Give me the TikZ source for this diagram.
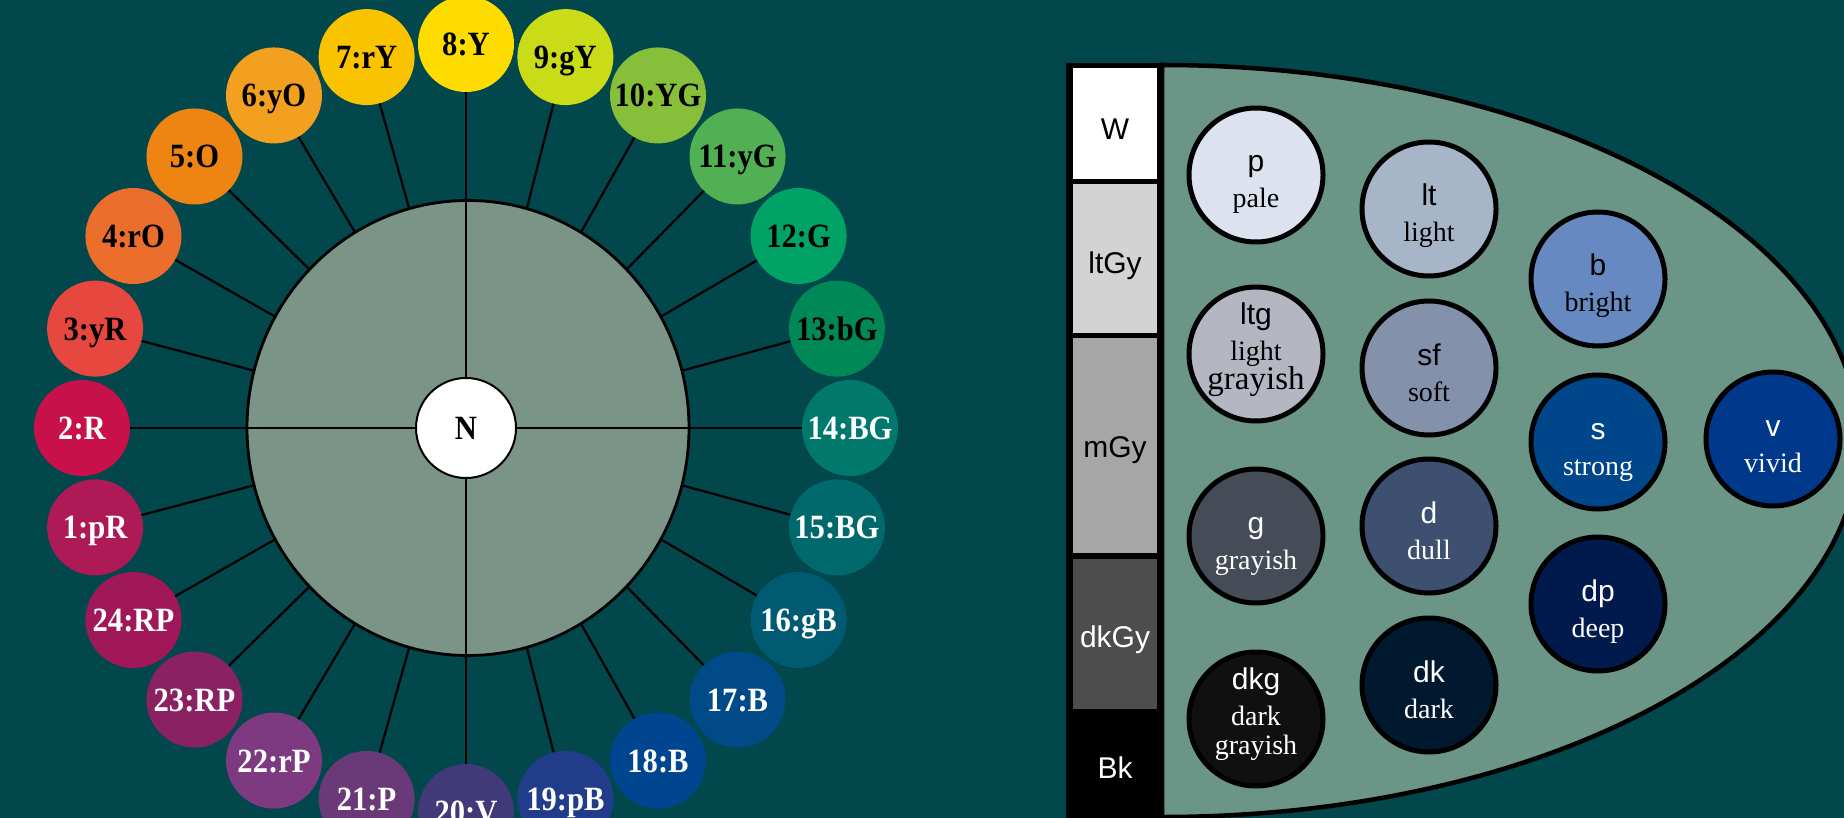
\documentclass[tikz,border=0pt]{standalone}
\usepackage{fontspec}
\usetikzlibrary{shapes.geometric}
\setmainfont{Liberation Serif}
\setsansfont{Liberation Sans}
\newfontfamily\wheelfont[FakeStretch=0.9]{Liberation Serif}
\definecolor{bg}{HTML}{01474C}
\definecolor{wheelgray}{HTML}{7A9588}
\definecolor{ovalgray}{HTML}{6B9586}
\definecolor{w1}{HTML}{AE1A55}
\definecolor{w2}{HTML}{C8104A}
\definecolor{w3}{HTML}{E6473F}
\definecolor{w4}{HTML}{EC6E2C}
\definecolor{w5}{HTML}{EE8412}
\definecolor{w6}{HTML}{F39F20}
\definecolor{w7}{HTML}{FAC300}
\definecolor{w8}{HTML}{FEDC00}
\definecolor{w9}{HTML}{CADB17}
\definecolor{w10}{HTML}{87BF3B}
\definecolor{w11}{HTML}{50B053}
\definecolor{w12}{HTML}{00A266}
\definecolor{w13}{HTML}{008957}
\definecolor{w14}{HTML}{00796C}
\definecolor{w15}{HTML}{00696B}
\definecolor{w16}{HTML}{005A72}
\definecolor{w17}{HTML}{004B87}
\definecolor{w18}{HTML}{00458F}
\definecolor{w19}{HTML}{213D8A}
\definecolor{w20}{HTML}{413978}
\definecolor{w21}{HTML}{6A3A78}
\definecolor{w22}{HTML}{7D3A80}
\definecolor{w23}{HTML}{8A2163}
\definecolor{w24}{HTML}{A01859}
\definecolor{cp}{HTML}{DCE2EE}
\definecolor{clt}{HTML}{A7B5C9}
\definecolor{cb}{HTML}{6789C2}
\definecolor{cltg}{HTML}{B4B7C1}
\definecolor{csf}{HTML}{8391AA}
\definecolor{cs}{HTML}{00468A}
\definecolor{cv}{HTML}{00388B}
\definecolor{cg}{HTML}{464C57}
\definecolor{cd}{HTML}{3D506F}
\definecolor{cdp}{HTML}{001A4E}
\definecolor{cdkg}{HTML}{101010}
\definecolor{cdk}{HTML}{00192F}
\definecolor{ltgy}{HTML}{D3D3D3}
\definecolor{mgy}{HTML}{A6A6A6}
\definecolor{dkgy}{HTML}{4D4D4D}
\newcommand{\tonetwo}[7]{%
  \node[tone, fill=#4] (#1) at (#2,#3) {};
  \node[abbrtxt, text=#5] (#1-a) at (#2,#3-3) {#6};
  \node[wordtxt, text=#5] (#1-w) at (#2,#3+33) {#7};
}
\newcommand{\tonethree}[9]{%
  \node[tone, fill=#4] (#1) at (#2,#3) {};
  \node[abbrtxt, text=#5] (#1-a) at (#2,#3-30) {#6};
  \node[wordtxt, text=#5] (#1-w) at (#2,#3+6) {#7};
  \node[wordtxt, text=#5, font=\rmfamily\fontsize{#9}{32}\selectfont] (#1-x) at (#2,#3+35) {#8};
}
\begin{document}
\begin{tikzpicture}[x=1pt,y=-1pt,
  wdisk/.style={circle, minimum size=96pt, inner sep=0pt,
    font=\wheelfont\bfseries\fontsize{34}{40}\selectfont,
    text height=23pt, text depth=0pt},
  spoke/.style={draw=black, line width=2.2pt},
  tone/.style={circle, minimum size=134pt, inner sep=0pt, draw=black, line width=5pt},
  abbrtxt/.style={anchor=base, inner sep=0pt, font=\sffamily\fontsize{30}{36}\selectfont},
  wordtxt/.style={anchor=base, inner sep=0pt, font=\rmfamily\fontsize{28}{32}\selectfont},
  barseg/.style={rectangle, minimum width=84pt, inner sep=0pt},
  bartxt/.style={anchor=base, inner sep=0pt, font=\sffamily\fontsize{30}{36}\selectfont}
]
\useasboundingbox (0,0) rectangle (1844,818);
\clip (0,0) rectangle (1844,818);
\fill[bg] (0,0) rectangle (1844,818);

% ---------- hue wheel ----------
\node[ellipse, minimum width=442pt, minimum height=455pt, inner sep=0pt, draw=black, line width=2.8pt, fill=wheelgray] (big) at (468,428) {};
\foreach \i/\lab/\tc in {1/1:pR/white, 2/2:R/white, 3/3:yR/black, 4/4:rO/black,
  5/5:O/black, 6/6:yO/black, 7/7:rY/black, 8/8:Y/black, 9/9:gY/black,
  10/10:YG/black, 11/11:yG/black, 12/12:G/black, 13/13:bG/black,
  14/14:BG/white, 15/15:BG/white, 16/16:gB/white, 17/17:B/white, 18/18:B/white,
  19/19:pB/white, 20/20:V/white, 21/21:P/white, 22/22:rP/white, 23/23:RP/white,
  24/24:RP/white} {
  \pgfmathsetmacro\ang{210-15*\i}
  \node[wdisk, fill=w\i, text=\tc] (w\i) at ({466+384*cos(\ang)},{428-384*sin(\ang)}) {\lab};
}
\node[circle, minimum size=100pt, inner sep=0pt, draw=black, line width=2pt, fill=white,
  font=\wheelfont\bfseries\fontsize{34}{40}\selectfont, text height=23pt, text depth=0pt] (N) at (466,428) {N};
\foreach \i in {1,3,4,5,6,7,9,10,11,12,13,15,16,17,18,19,21,22,23,24} {
  \pgfmathtruncatemacro\ang{mod(210-15*\i+720,360)}
  \draw[spoke] (big.\ang) -- (w\i);
}
\draw[spoke] (N) -- (w8);
\draw[spoke] (N) -- (w14);
\draw[spoke] (N) -- (w20);
\draw[spoke] (N) -- (w2);

% ---------- tone chart ----------
\path[fill=ovalgray, draw=black, line width=4.5pt]
  (1162,65) arc[start angle=-90, end angle=90, x radius=697, y radius=376] -- cycle;
\fill[black] (1066,63) rectangle (1162,830);
\node[barseg, fill=white, minimum height=111pt] (barW) at (1115,123.5) {};
\node[barseg, fill=ltgy, minimum height=149pt] (barltGy) at (1115,258.5) {};
\node[barseg, fill=mgy, minimum height=215pt] (barmGy) at (1115,445.5) {};
\node[barseg, fill=dkgy, minimum height=150pt] (bardkGy) at (1115,634) {};
\node[bartxt, text=black] (tW) at (1115,140) {W};
\node[bartxt, text=black] (tltGy) at (1115,274) {ltGy};
\node[bartxt, text=black] (tmGy) at (1115,457) {mGy};
\node[bartxt, text=white] (tdkGy) at (1115,647) {dkGy};
\node[bartxt, text=white] (tBk) at (1115,778) {Bk};

\tonetwo{p}{1256}{175}{cp}{black}{p}{pale}
\tonetwo{lt}{1429}{209}{clt}{black}{lt}{light}
\tonetwo{b}{1598}{279}{cb}{black}{b}{bright}
\tonethree{ltg}{1256}{354}{cltg}{black}{ltg}{light}{grayish}{33}
\tonetwo{sf}{1429}{368}{csf}{black}{sf}{soft}
\tonetwo{s}{1598}{442}{cs}{white}{s}{strong}
\tonetwo{v}{1773}{439}{cv}{white}{v}{vivid}
\tonetwo{g}{1256}{536}{cg}{white}{g}{grayish}
\tonetwo{d}{1429}{526}{cd}{white}{d}{dull}
\tonetwo{dp}{1598}{604}{cdp}{white}{dp}{deep}
\tonethree{dkg}{1256}{719}{cdkg}{white}{dkg}{dark}{grayish}{28}
\tonetwo{dk}{1429}{685}{cdk}{white}{dk}{dark}
\end{tikzpicture}
\end{document}
